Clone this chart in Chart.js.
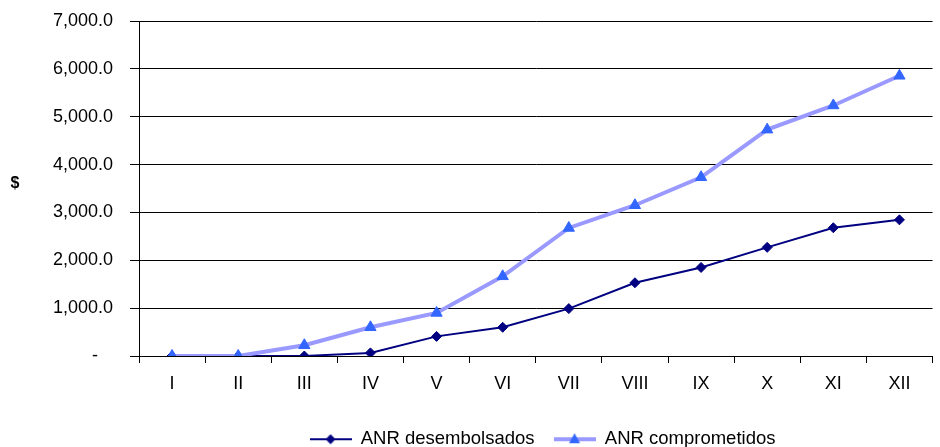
<!DOCTYPE html>
<html>
<head>
<meta charset="utf-8">
<script src="https://cdn.jsdelivr.net/npm/chart.js@4/dist/chart.umd.min.js"></script>
<style>
  html, body { margin: 0; padding: 0; background: #fff; }
  #wrap { width: 940px; height: 447px; position: relative; }
</style>
</head>
<body>
<div id="wrap"><canvas id="c" width="940" height="447"></canvas></div>
<script>
const categories = ['I', 'II', 'III', 'IV', 'V', 'VI', 'VII', 'VIII', 'IX', 'X', 'XI', 'XII'];
const desembolsados = [0, 0, 0, 65, 410, 600, 990, 1530, 1850, 2270, 2680, 2845];
const comprometidos = [0, 0, 225, 600, 900, 1665, 2675, 3150, 3735, 4730, 5235, 5855];
const seriesNames = ['ANR desembolsados', 'ANR comprometidos'];
const yTitle = '$';

const FONT = "'Liberation Sans', Arial, sans-serif";
const NAVY = '#000080';
const LAV = '#9999FF';
const BLUE = '#3366FF';
const LEGEND_PAD = 19;

function legendIcon(kind) {
  const cv = document.createElement('canvas');
  cv.width = 42; cv.height = 14;
  const g = cv.getContext('2d');
  const cy = 7;
  if (kind === 'diamond') {
    g.strokeStyle = NAVY; g.lineWidth = 2;
    g.beginPath(); g.moveTo(0, cy); g.lineTo(42, cy); g.stroke();
    g.fillStyle = NAVY;
    g.beginPath(); g.moveTo(21, cy - 5); g.lineTo(26, cy); g.lineTo(21, cy + 5); g.lineTo(16, cy); g.closePath(); g.fill();
  } else {
    g.strokeStyle = LAV; g.lineWidth = 4;
    g.beginPath(); g.moveTo(0, cy); g.lineTo(42, cy); g.stroke();
    g.fillStyle = BLUE;
    g.beginPath(); g.moveTo(21, cy - 6); g.lineTo(26.5, cy + 4); g.lineTo(15.5, cy + 4); g.closePath(); g.fill();
  }
  return cv;
}
const icons = [legendIcon('diamond'), legendIcon('triangle')];

const layoutFix = {
  id: 'layoutFix',
  beforeLayout(chart) {
    const lg = chart.legend;
    if (lg && !lg._patched) {
      const orig = lg.fit;
      lg.fit = function () { orig.call(this); this.height = 37; };
      lg._patched = true;
    }
  },
  afterLayout(chart) {
    const lg = chart.legend;
    if (lg) {
      const h = lg.height;
      lg.top = 437 - LEGEND_PAD - 7;
      lg.bottom = lg.top + h;
      lg.left += 73;
      lg.right += 73;
    }
  },
  afterDraw(chart) {
    const ctx = chart.ctx;
    ctx.save();
    ctx.font = 'bold 16px ' + FONT;
    ctx.fillStyle = '#000';
    ctx.textAlign = 'center';
    ctx.textBaseline = 'middle';
    ctx.fillText(yTitle, 15, 184);
    ctx.restore();
  }
};

Chart.defaults.font.family = FONT;
Chart.defaults.color = '#000';

new Chart(document.getElementById('c'), {
  type: 'line',
  data: {
    labels: categories,
    datasets: [
      {
        label: seriesNames[0],
        data: desembolsados,
        borderColor: NAVY,
        backgroundColor: NAVY,
        borderWidth: 2,
        pointStyle: 'rectRot',
        pointRadius: 5,
        pointBackgroundColor: NAVY,
        pointBorderColor: NAVY,
        pointBorderWidth: 1,
        tension: 0,
        order: 1
      },
      {
        label: seriesNames[1],
        data: comprometidos,
        borderColor: LAV,
        backgroundColor: BLUE,
        borderWidth: 4,
        pointStyle: 'triangle',
        pointRadius: 6.5,
        pointBackgroundColor: BLUE,
        pointBorderColor: BLUE,
        pointBorderWidth: 1,
        tension: 0,
        order: 0
      }
    ]
  },
  options: {
    responsive: false,
    animation: false,
    devicePixelRatio: 1,
    layout: { padding: { top: 21, right: 1, left: 0, bottom: 0 } },
    plugins: {
      tooltip: { enabled: false },
      title: { display: false },
      legend: {
        position: 'bottom',
        labels: {
          usePointStyle: true,
          pointStyleWidth: 42,
          boxHeight: 14,
          padding: LEGEND_PAD,
          font: { size: 18.5 },
          color: '#000',
          generateLabels(chart) {
            return seriesNames.map((n, i) => ({
              text: n,
              pointStyle: icons[i],
              datasetIndex: i,
              fillStyle: 'transparent',
              strokeStyle: 'transparent',
              lineWidth: 0,
              hidden: false
            }));
          }
        }
      }
    },
    scales: {
      x: {
        offset: true,
        grid: {
          display: true,
          offset: true,
          drawOnChartArea: false,
          drawTicks: true,
          tickLength: 7,
          color: '#000',
          lineWidth: 1
        },
        border: { display: true, color: '#000', width: 1 },
        ticks: { font: { size: 18 }, color: '#000', padding: 10, maxRotation: 0, autoSkip: false },
        afterFit(scale) { scale.height = 54; }
      },
      y: {
        min: 0,
        max: 7000,
        grid: {
          color: '#000',
          lineWidth: 1,
          drawTicks: true,
          tickLength: 9
        },
        border: { display: true, color: '#000', width: 1 },
        ticks: {
          stepSize: 1000,
          font: { size: 18 },
          color: '#000',
          padding: 17,
          callback(v) {
            if (v === 0) return '-   ';
            return v.toLocaleString('en-US', { minimumFractionDigits: 1, maximumFractionDigits: 1 });
          }
        },
        afterFit(scale) {
          scale.width = 139;
          scale.paddingTop = 10;
          scale.paddingBottom = 10;
        }
      }
    }
  },
  plugins: [layoutFix]
});
</script>
</body>
</html>
